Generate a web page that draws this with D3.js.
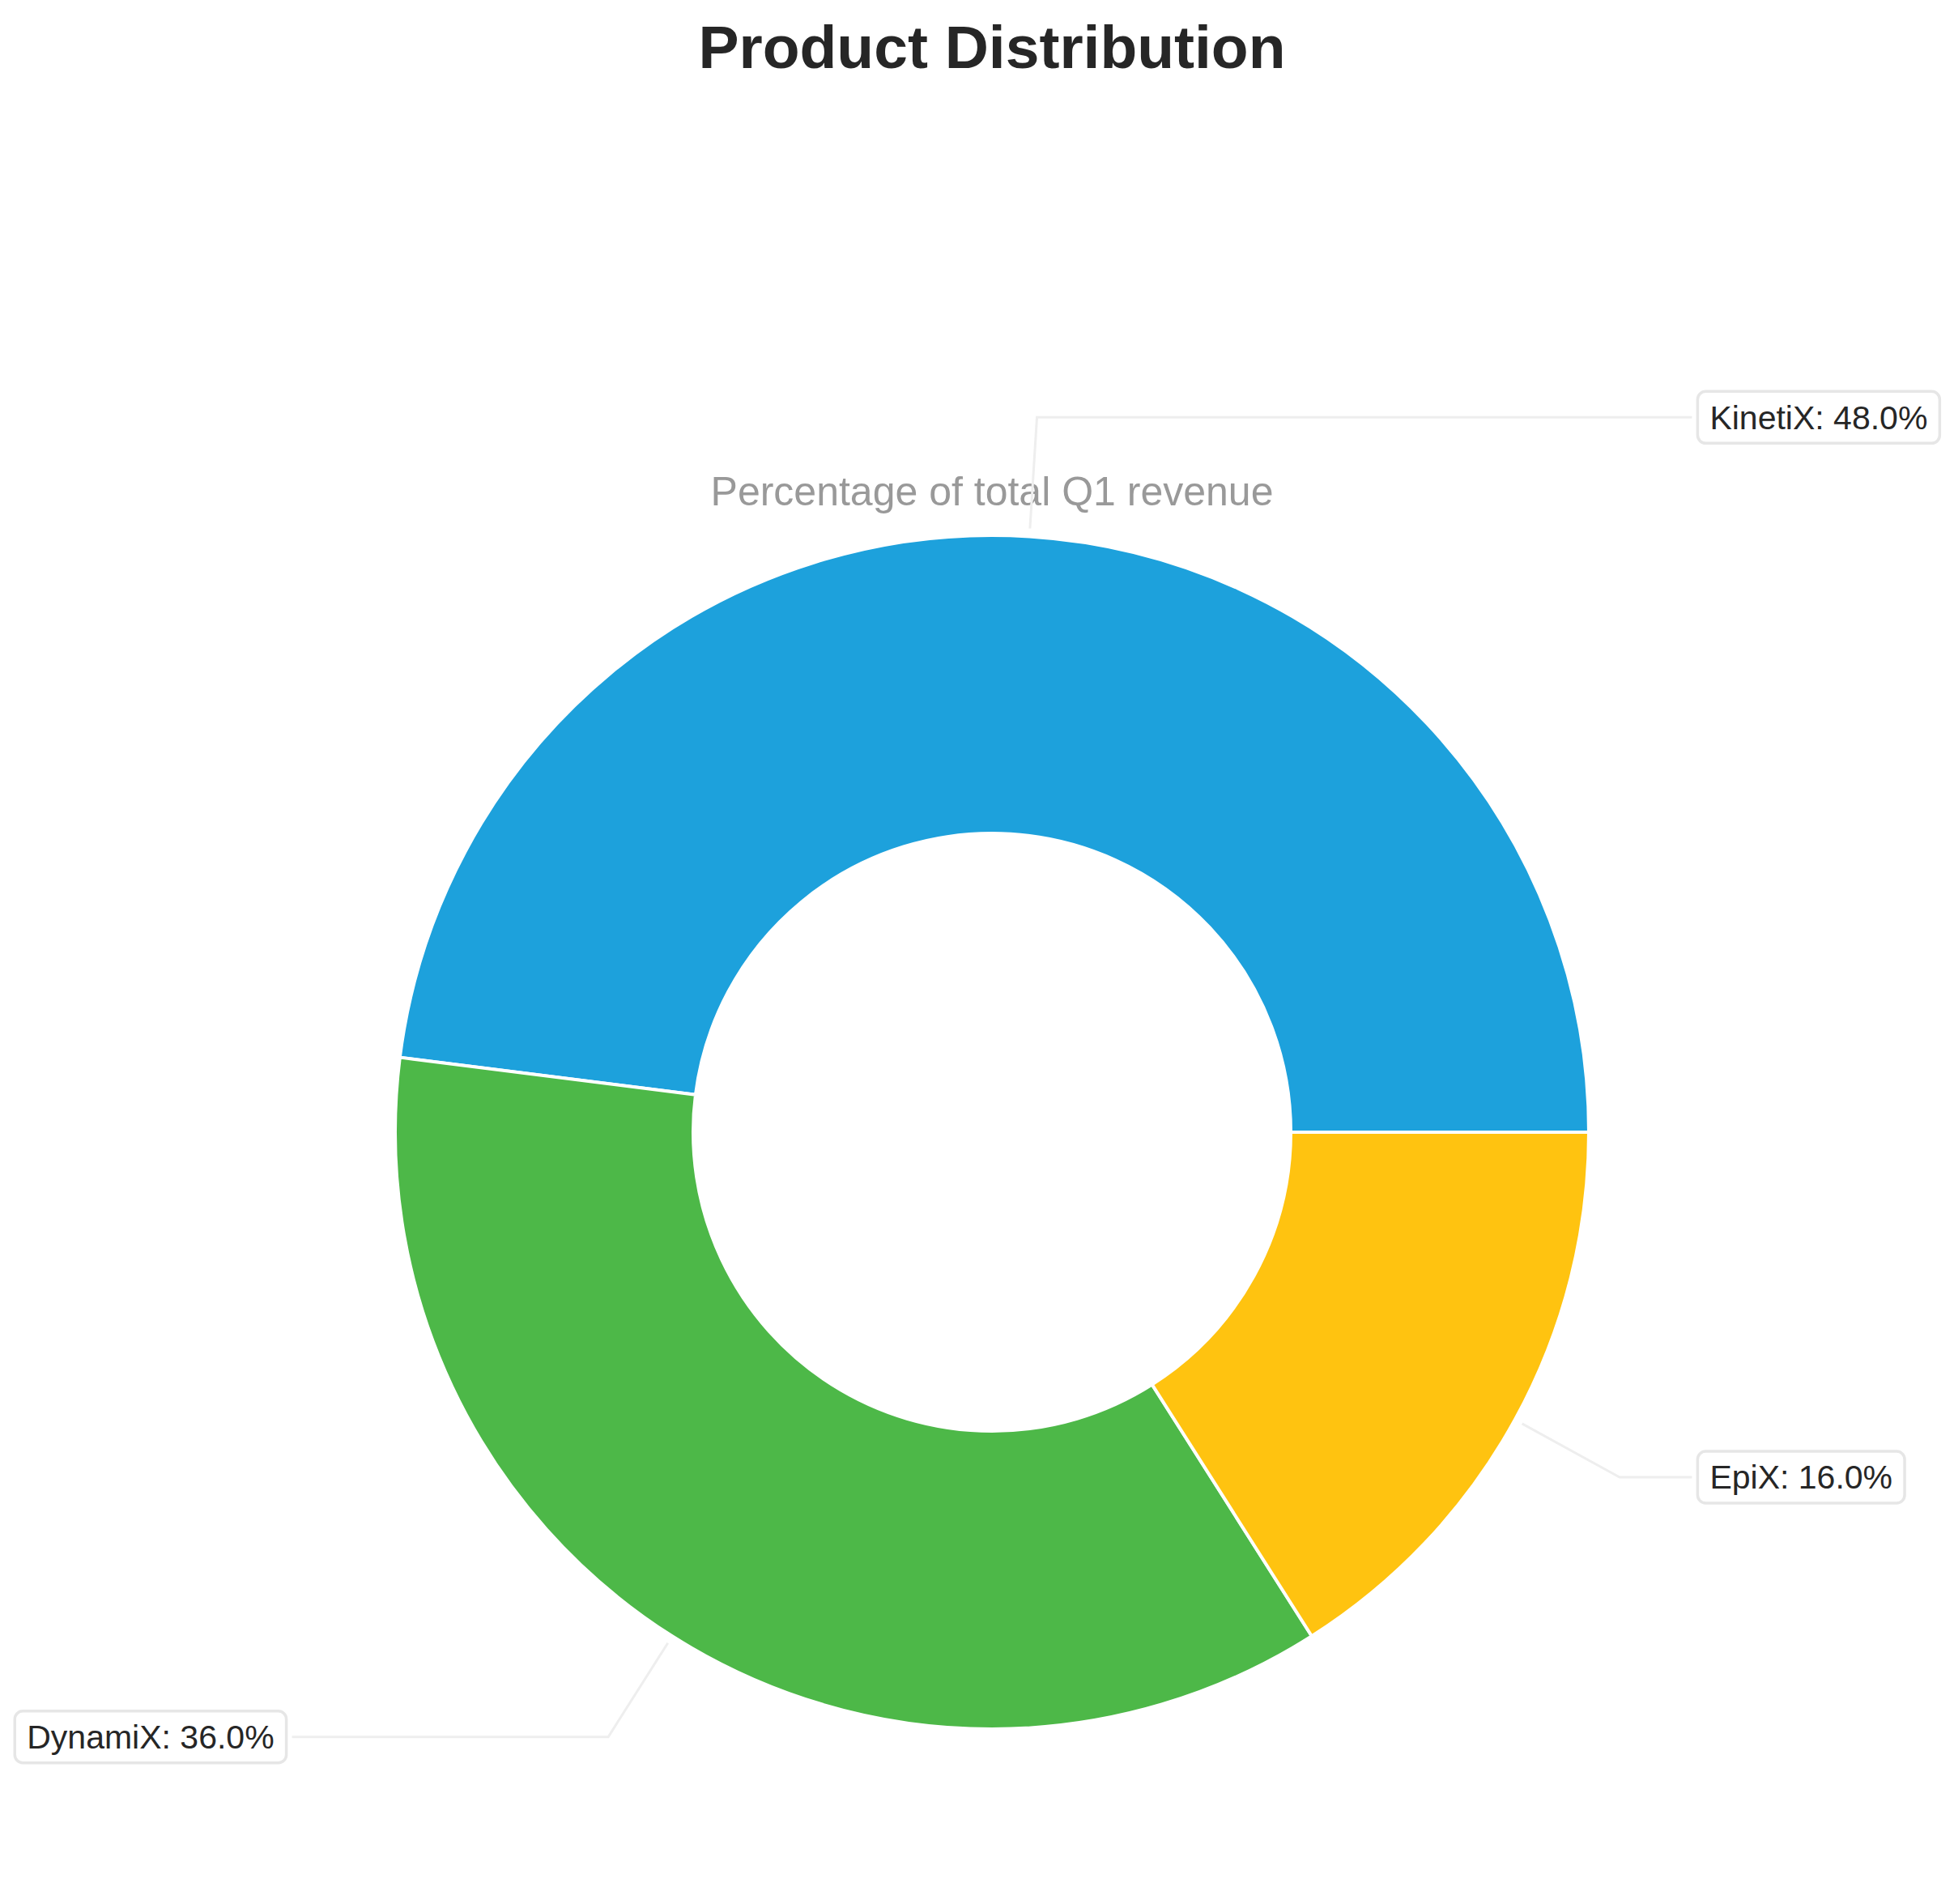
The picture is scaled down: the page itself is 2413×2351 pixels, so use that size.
<!DOCTYPE html>
<html>
<head>
<meta charset="utf-8">
<script src="https://cdn.jsdelivr.net/npm/d3@7"></script>
<style>
  html, body { margin: 0; padding: 0; background: #ffffff; }
  svg { display: block; }
  text { font-family: "Liberation Sans", Arial, Helvetica, sans-serif; }
</style>
</head>
<body>
<script>
const categories = ["KinetiX", "DynamiX", "EpiX"];
const values = [48, 36, 16];
const colors = ["#1DA1DC", "#4DB848", "#FFC310"];
const titleText = "Product Distribution";
const subtitleText = "Percentage of total Q1 revenue";

const W = 2413, H = 2351;
const cx = 1225, cy = 1398, R = 737, innerR = 369;

const svg = d3.select("body").append("svg")
  .attr("width", W).attr("height", H)
  .attr("viewBox", `0 0 ${W} ${H}`);
svg.append("rect").attr("width", W).attr("height", H).attr("fill", "#ffffff");

const data = categories.map((c, i) => ({ name: c, value: values[i], color: colors[i] }));

const pie = d3.pie().sort(null).value(d => d.value)
  .startAngle(Math.PI / 2).endAngle(Math.PI / 2 - 2 * Math.PI);
const arcs = pie(data);

const arc = d3.arc().innerRadius(innerR).outerRadius(R);

const g = svg.append("g").attr("transform", `translate(${cx},${cy})`);
g.selectAll("path.wedge").data(arcs).join("path")
  .attr("class", "wedge")
  .attr("d", arc)
  .attr("fill", d => d.data.color)
  .attr("stroke", "#ffffff")
  .attr("stroke-width", 4)
  .attr("stroke-linejoin", "miter");

// Title and subtitle
svg.append("text").attr("x", cx).attr("y", 84)
  .attr("text-anchor", "middle").attr("font-size", 75).attr("font-weight", "bold")
  .attr("fill", "#262626").text(titleText);
svg.append("text").attr("x", cx).attr("y", 624)
  .attr("text-anchor", "middle").attr("font-size", 50)
  .attr("fill", "#999999").text(subtitleText);

// Annotations
const labelG = svg.append("g");
arcs.forEach(a => {
  const ang = (a.startAngle + a.endAngle) / 2; // d3 angle (clockwise from 12 o'clock)
  const ux = Math.sin(ang), uy = -Math.cos(ang);
  const sgn = ux >= 0 ? 1 : -1;
  const ty = cy + 1.2 * R * uy;            // text y (pixel)
  const tx = cx + sgn * 1.2 * R;           // text x anchor
  const rElbow = (ty - cy) / uy;           // radius where radial line meets text y
  const startR = R + 10;
  const p0 = [cx + startR * ux, cy + startR * uy];
  const p1 = [cx + rElbow * ux, ty];

  const label = `${a.data.name}: ${a.data.value.toFixed(1)}%`;
  const t = labelG.append("text")
    .attr("x", sgn > 0 ? tx + 2 : tx - 2)
    .attr("y", ty)
    .attr("dy", "0.35em")
    .attr("text-anchor", sgn > 0 ? "start" : "end")
    .attr("font-size", 41)
    .attr("fill", "#262626")
    .text(label);
  const bb = t.node().getBBox();
  const padX = 15;
  const bx = bb.x - padX, bw = bb.width + 2 * padX;
  const bh = 64, by = ty - bh / 2;
  const p2 = [sgn > 0 ? bx - 7 : bx + bw + 7, ty];

  labelG.insert("path", "text")
    .attr("d", d3.line()([p0, p1, p2]))
    .attr("fill", "none")
    .attr("stroke", "#eeeeee")
    .attr("stroke-width", 3);
  labelG.insert("rect", "text")
    .attr("x", bx).attr("y", by).attr("width", bw).attr("height", bh)
    .attr("rx", 10).attr("ry", 10)
    .attr("fill", "#ffffff")
    .attr("stroke", "#e6e6e6")
    .attr("stroke-width", 3.5);
});
</script>
</body>
</html>
